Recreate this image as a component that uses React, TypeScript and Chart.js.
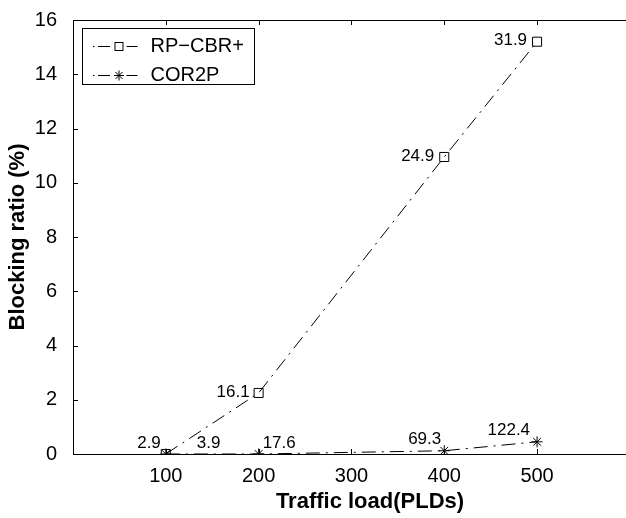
import { useEffect, useRef } from 'react';
import { Chart, registerables } from 'chart.js';

Chart.register(...registerables);

const trafficLoads = [100, 200, 400, 500];
const rpCbrValues = [0, 2.25, 10.95, 15.2];
const cor2pValues = [0, 0, 0.12, 0.45];
const rpCbrLabels = ['2.9', '16.1', '24.9', '31.9'];
const cor2pLabels = ['3.9', '17.6', '69.3', '122.4'];
const xTickValues = [100, 200, 300, 400, 500];
const yTickValues = [0, 2, 4, 6, 8, 10, 12, 14, 16];
const seriesNames = ['RP\u2212CBR+', 'COR2P'];
const xTitle = 'Traffic load(PLDs)';
const yTitle = 'Blocking ratio (%)';

const FONT = '"Liberation Sans", Arial, Helvetica, sans-serif';
const DASH = [14, 6, 2, 6];

function drawStar(ctx: CanvasRenderingContext2D, x: number, y: number, r: number) {
  ctx.beginPath();
  ctx.moveTo(x - r, y);
  ctx.lineTo(x + r, y);
  ctx.moveTo(x, y - r);
  ctx.lineTo(x, y + r);
  const d = r * Math.SQRT1_2;
  ctx.moveTo(x - d, y - d);
  ctx.lineTo(x + d, y + d);
  ctx.moveTo(x - d, y + d);
  ctx.lineTo(x + d, y - d);
  ctx.stroke();
}

const framePlugin = {
  id: 'frameTicks',
  afterDraw(chart: any) {
    const { ctx, chartArea: a, scales } = chart;
    ctx.save();
    ctx.strokeStyle = '#000';
    ctx.lineWidth = 1;
    ctx.setLineDash([]);
    ctx.strokeRect(Math.round(a.left) + 0.5, Math.round(a.top) + 0.5, Math.round(a.right - a.left), Math.round(a.bottom - a.top));
    const tl = 5;
    ctx.beginPath();
    xTickValues.forEach((v) => {
      const x = Math.round(scales.x.getPixelForValue(v)) + 0.5;
      ctx.moveTo(x, a.bottom);
      ctx.lineTo(x, a.bottom - tl);
      ctx.moveTo(x, a.top);
      ctx.lineTo(x, a.top + tl);
    });
    yTickValues.forEach((v) => {
      const y = Math.round(scales.y.getPixelForValue(v)) + 0.5;
      ctx.moveTo(a.left, y);
      ctx.lineTo(a.left + tl, y);
      ctx.moveTo(a.right, y);
      ctx.lineTo(a.right - tl, y);
    });
    ctx.stroke();

    // value annotations
    ctx.fillStyle = '#000';
    ctx.font = `17px ${FONT}`;
    ctx.textBaseline = 'middle';
    const rpDx = [-5, -9, -10, -10];
    rpCbrLabels.forEach((t, i) => {
      const px = scales.x.getPixelForValue(trafficLoads[i]);
      const py = scales.y.getPixelForValue(rpCbrValues[i]);
      ctx.textAlign = 'right';
      ctx.fillText(t, px + rpDx[i], Math.min(py - 1, a.bottom - 11));
    });
    const corDx = [31, 4, -3, -7];
    const corAlign: CanvasTextAlign[] = ['left', 'left', 'right', 'right'];
    cor2pLabels.forEach((t, i) => {
      const px = scales.x.getPixelForValue(trafficLoads[i]);
      const py = scales.y.getPixelForValue(cor2pValues[i]);
      ctx.textAlign = corAlign[i];
      ctx.fillText(t, px + corDx[i], py - 11);
    });

    // legend
    const bx = a.left + 9.5;
    const by = a.top + 8.5;
    const bw = 172;
    const bh = 56;
    ctx.fillStyle = '#fff';
    ctx.fillRect(bx, by, bw, bh);
    ctx.strokeStyle = '#000';
    ctx.strokeRect(bx, by, bw, bh);
    const rows = [by + 17, by + 46.5];
    seriesNames.forEach((name, i) => {
      const y = Math.round(rows[i]) + 0.5;
      ctx.beginPath();
      ctx.moveTo(bx + 10.5, y);
      ctx.lineTo(bx + 12, y);
      ctx.moveTo(bx + 15.5, y);
      ctx.lineTo(bx + 27.5, y);
      ctx.moveTo(bx + 44, y);
      ctx.lineTo(bx + 55, y);
      ctx.stroke();
      const mx = bx + 36.5;
      if (i === 0) {
        ctx.fillStyle = '#fff';
        ctx.fillRect(mx - 4.5, y - 4.5, 9, 9);
        ctx.strokeRect(mx - 4, y - 4, 8, 8);
      } else {
        drawStar(ctx, mx, y, 5);
      }
      ctx.fillStyle = '#000';
      ctx.font = `20px ${FONT}`;
      ctx.textAlign = 'left';
      ctx.textBaseline = 'middle';
      ctx.fillText(name, bx + 68, y);
    });
    ctx.restore();
  },
};

export default function App() {
  const ref = useRef<HTMLCanvasElement>(null);
  useEffect(() => {
    if (!ref.current) return;
    const chart = new Chart(ref.current, {
      type: 'line',
      data: {
        datasets: [
          {
            label: seriesNames[0],
            data: trafficLoads.map((x, i) => ({ x, y: rpCbrValues[i] })),
            borderColor: '#000',
            borderWidth: 1,
            borderDash: DASH,
            pointStyle: 'rect',
            pointRadius: 6.4,
            pointBorderColor: '#000',
            pointBackgroundColor: 'rgba(0,0,0,0)',
            pointBorderWidth: 1,
            tension: 0,
            fill: false,
          },
          {
            label: seriesNames[1],
            data: trafficLoads.map((x, i) => ({ x, y: cor2pValues[i] })),
            borderColor: '#000',
            borderWidth: 1,
            borderDash: DASH,
            pointStyle: 'star',
            pointRadius: 5.5,
            pointBorderColor: '#000',
            pointBackgroundColor: 'rgba(0,0,0,0)',
            pointBorderWidth: 1,
            tension: 0,
            fill: false,
          },
        ],
      },
      options: {
        animation: false,
        responsive: false,
        devicePixelRatio: 1,
        layout: { padding: { top: 16, right: 13, left: 0, bottom: 0 } },
        plugins: { legend: { display: false }, tooltip: { enabled: false } },
        scales: {
          x: {
            type: 'linear',
            min: 0,
            max: 640,
            grid: { display: false },
            border: { display: false },
            afterBuildTicks: (s: any) => {
              s.ticks = xTickValues.map((v) => ({ value: v }));
            },
            afterFit: (s: any) => {
              s.height = 64;
            },
            ticks: {
              color: '#000',
              padding: 2,
              maxRotation: 0,
              font: { family: FONT, size: 20 },
            },
            title: {
              display: true,
              text: xTitle,
              color: '#000',
              padding: { top: 0, bottom: 3 },
              font: { family: FONT, size: 22, weight: 'bold' },
            },
          },
          y: {
            type: 'linear',
            min: 0,
            max: 16,
            grid: { display: false },
            border: { display: false },
            afterBuildTicks: (s: any) => {
              s.ticks = yTickValues.map((v) => ({ value: v }));
            },
            afterFit: (s: any) => {
              s.width = 73;
            },
            ticks: {
              color: '#000',
              padding: 8,
              font: { family: FONT, size: 20 },
            },
            title: {
              display: true,
              text: yTitle,
              color: '#000',
              padding: { top: 5, bottom: 0 },
              font: { family: FONT, size: 22, weight: 'bold' },
            },
          },
        },
      },
      plugins: [framePlugin],
    });
    return () => chart.destroy();
  }, []);
  return (
    <div style={{ position: 'fixed', left: 0, top: 0, width: 626, height: 518, overflow: 'hidden', background: '#fff' }}>
      <canvas ref={ref} width={680} height={518} style={{ display: 'block', width: 680, height: 518 }} />
    </div>
  );
}
